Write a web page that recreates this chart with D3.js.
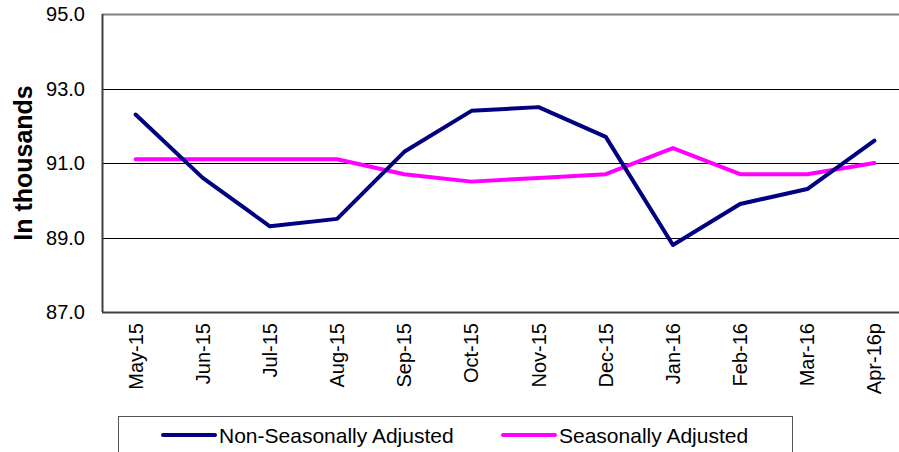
<!DOCTYPE html>
<html>
<head>
<meta charset="utf-8">
<script src="https://cdn.jsdelivr.net/npm/d3@7"></script>
<style>
  body { margin: 0; background: #fff; }
  text { font-family: "Liberation Sans", Arial, sans-serif; }
</style>
</head>
<body>
<div id="chart"></div>
<script>
var months = ["May-15","Jun-15","Jul-15","Aug-15","Sep-15","Oct-15","Nov-15","Dec-15","Jan-16","Feb-16","Mar-16","Apr-16p"];
var nonSeasonal = [92.3, 90.6, 89.3, 89.5, 91.3, 92.4, 92.5, 91.7, 88.8, 89.9, 90.3, 91.6];
var seasonal    = [91.1, 91.1, 91.1, 91.1, 90.7, 90.5, 90.6, 90.7, 91.4, 90.7, 90.7, 91.0];
var yTicks = [87, 89, 91, 93, 95];

var width = 899, height = 452;
var plotLeft = 102, plotTop = 14, plotBottom = 312, plotRight = 908;

var svg = d3.select("#chart").append("svg")
    .attr("width", width)
    .attr("height", height);

var x = d3.scaleBand().domain(months).range([plotLeft, plotRight]);
var y = d3.scaleLinear().domain([87, 95]).range([plotBottom, plotTop]);

// grid lines
svg.selectAll("line.grid")
   .data(yTicks.filter(function(d) { return d > 87 && d < 95; }))
   .enter().append("line")
   .attr("class", "grid")
   .attr("x1", plotLeft).attr("x2", width)
   .attr("y1", function(d) { return Math.round(y(d)) + 0.5; })
   .attr("y2", function(d) { return Math.round(y(d)) + 0.5; })
   .attr("stroke", "#000").attr("stroke-width", 1);

// frame
svg.append("line").attr("x1", plotLeft).attr("x2", width)
   .attr("y1", plotTop + 0.5).attr("y2", plotTop + 0.5)
   .attr("stroke", "#808080").attr("stroke-width", 2);
svg.append("line").attr("x1", plotLeft + 0.5).attr("x2", plotLeft + 0.5)
   .attr("y1", plotTop).attr("y2", plotBottom)
   .attr("stroke", "#404040").attr("stroke-width", 2);
svg.append("line").attr("x1", plotLeft).attr("x2", width)
   .attr("y1", plotBottom + 0.5).attr("y2", plotBottom + 0.5)
   .attr("stroke", "#404040").attr("stroke-width", 2);

// y labels
svg.selectAll("text.ylab")
   .data(yTicks)
   .enter().append("text")
   .attr("class", "ylab")
   .attr("x", 85)
   .attr("y", function(d) { return y(d); })
   .attr("dy", "0.36em")
   .attr("text-anchor", "end")
   .style("font-size", "20px")
   .text(function(d) { return d3.format(".1f")(d); });

svg.append("text")
   .attr("transform", "translate(32," + y(91) + ") rotate(-90)")
   .attr("text-anchor", "middle")
   .style("font-size", "25px")
   .style("font-weight", "bold")
   .text("In thousands");

// x labels
svg.selectAll("text.xlab")
   .data(months)
   .enter().append("text")
   .attr("class", "xlab")
   .attr("transform", function(d) {
       return "translate(" + (x(d) + x.bandwidth() / 2 + 7) + ",323) rotate(-90)";
   })
   .attr("text-anchor", "end")
   .style("font-size", "20px")
   .text(function(d) { return d; });

var line = d3.line()
    .x(function(d, i) { return x(months[i]) + x.bandwidth() / 2; })
    .y(function(d) { return y(d); });

svg.append("path").datum(seasonal)
   .attr("d", line).attr("fill", "none")
   .attr("stroke", "#ff00ff").attr("stroke-width", 4)
   .attr("stroke-linecap", "round").attr("stroke-linejoin", "round");
svg.append("path").datum(nonSeasonal)
   .attr("d", line).attr("fill", "none")
   .attr("stroke", "#000080").attr("stroke-width", 4)
   .attr("stroke-linecap", "round").attr("stroke-linejoin", "round");

// legend
svg.append("rect")
   .attr("x", 118.5).attr("y", 416.5)
   .attr("width", 674).attr("height", 50)
   .attr("fill", "#fff").attr("stroke", "#555").attr("stroke-width", 1);

var legend = [
  { name: "Non-Seasonally Adjusted", color: "#000080", x: 163 },
  { name: "Seasonally Adjusted", color: "#ff00ff", x: 503 }
];
var lg = svg.selectAll("g.leg").data(legend).enter().append("g")
   .attr("transform", function(d) { return "translate(" + d.x + ",435)"; });
lg.append("line").attr("x1", 0).attr("x2", 52).attr("y1", 0).attr("y2", 0)
   .attr("stroke", function(d) { return d.color; }).attr("stroke-width", 4)
   .attr("stroke-linecap", "round");
lg.append("text").attr("x", 56).attr("dy", "0.36em")
   .style("font-size", "21px")
   .text(function(d) { return d.name; });
</script>
</body>
</html>
